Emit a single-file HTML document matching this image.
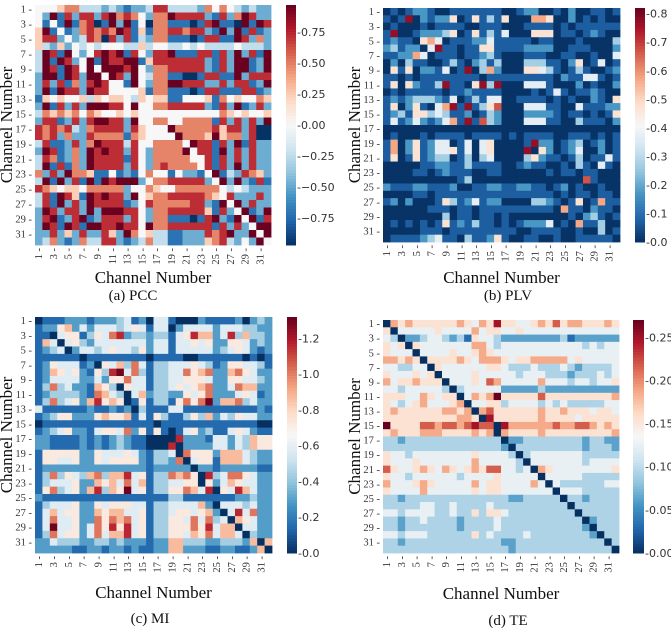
<!DOCTYPE html>
<html><head><meta charset="utf-8"><style>
html,body{margin:0;padding:0;background:#fff;width:671px;height:629px;overflow:hidden}
svg{display:block}
.yt{font-family:"Liberation Serif",serif;font-size:10.5px;fill:#333}
.cb{font-family:"DejaVu Sans",sans-serif;font-size:11px;fill:#333}
.ttl{font-family:"Liberation Serif",serif;font-size:17px;fill:#111}
.cap{font-family:"Liberation Serif",serif;font-size:15px;fill:#111}
</style></head><body>
<svg id="fig" width="671" height="629"></svg>
<script>
const channelLabels=[1,3,5,7,9,11,13,15,17,19,21,23,25,27,29,31];
const pccRows=["44456633323212237733332646432322","42817277278676426687777217268722","41418167018281406611101781108187","58141267676871516677677218281712","57724237607271326611101771187262","53252434344433534433434333343332","38718424787817427781117717282718","38187248187788157777777217288128","38718748488878426677777217288128","28818728848728436611001771182777","27271627874418426688777227277128","28187728774444516611101771117712","15454453545543545511444516454465","28172728887748446677777217281272","36565646544545444444444446545445","27712727887728446644666617272728","76767326777727544486666675772700","76726227666616544448666585662700","37112726877737446666487717281722","28712628787727426666847718272722","37612628777717426666644717272722","38171628777727426766664717282722","62728665114121464414221481327652","38182718187888246677777248282171","76545546666624465446666664343222","37187518787728456677777654722272","37182728777712476666677218482722","28727728288877426677777517248128","27812781277727426611101782184817","28718718877877486677777717272488","22725272275286453311222767822848","23621263377212363311222567324284"];
const plvRows=["01012210011111110012200102001101","10180212250151315000665002010100","01000101111001110001111010111111","18001222350151314000555011012100","12110564011122411111011000100003","23122048110115511112222001110002","11226401110112310001110011001004","02031100131023130003331102501401","05150221401803620005543101310012","11010111111110111111111021144101","15052113811058380004441000201002","01011111011211110000101410112100","12123332140131440011110101002105","15025104681813570004441100411122","12315534311201320002222101101015","14124212461817320004441100311102","00000000000000000000000000000000","01000101111011110101111001110101","16025124401404500001822012301201","16025124451404500008052012400201","15015123301303400003521101301141","00000112211311110012110010310410","00001101211100110000001011011000","00000000001300000000000000071000","21112211120011221122110120100100","00001101111111111111111010110110","12020001531241220000332101501611","00000011101101111111111061102110","00000000301101101000000001023101","01010101512131101012224010611300","00000111011111111100111100100301","01111234110311251001100100111110"];
const miRows=["01112221222341204410002111120232","12256242444345414402444424443322","11045513547823323314586624836332","16404532444444424414454522554232","12340244345443524414444423454212","11111101111111101111001111110101","12544412054637413344454312554431","12654521538947313344756722675422","12444422425574413344555422554432","13734221653054413345456722476622","12333321764304623322545722245412","13734526856501513315757926673422","41111112112120311144111111111121","12355222565561415311353624354422","01111111111111110111111111111100","12345221455472515101452311454211","22111121212321100008222144243655","22111121212321100080222244243655","15555522544454213340755526664322","15544522545555213327045516664322","12222222222222212222202212222211","13735436736684513376750834775422","13444522656474613344550524654422","15734526836594513355764805486422","21111111111111111133111111122322","13444522545554413344446204443422","14645522656644513345545620484722","14744522757674513355474734065422","14944524758584513355575846604422","13745524746684513355465746640322","22433322332322212266333223332606","22222112212212112266222112211260"];
const teRows=["06565555556546585544565756655565","50444445444464554454444444444444","43022344323154432222222231222222","54505444444466434444444444434344","54440444454456544444444444444444","66565055556546665455666664544444","44334405444444554333433343233334","54445450444454444434443332333434","64556555044454764444464443443445","44344444303444442222232222222222","55544654550465695555575555555556","54345644456044553444434343333344","56555555665606755555565565554554","55555555556650855555565555455555","95555776776787708666666766776565","56555666555565606555565555555556","33233333333333330223333333323322","33333333333333332033333333323332","54434444444454444303444444433333","54445444444464444430444444434444","75445654654565774434065444444445","54434444443444454444404444433333","64445654444464554444640433333344","54444644444454554444444044433333","33233333333333333223333303323333","33333443343333433333333330333333","44344443343353554333333333033333","33233433332333343333333333302333","33233333332333343333333333320333","44344433333353433334333333332033","33233333333333332233333333333303","33333333333333333233333333333330"];
const pccTicks=[-0.75,-0.5,-0.25,0,0.25,0.5,0.75];
const plvTicks=[0,0.1,0.2,0.3,0.4,0.5,0.6,0.7,0.8];
const miTicks=[0,0.2,0.4,0.6,0.8,1.0,1.2];
const teTicks=[0,0.05,0.1,0.15,0.2,0.25];

const NS="http://www.w3.org/2000/svg";
const svg=document.getElementById('fig');
const stops=["#053061","#2166ac","#4393c3","#92c5de","#d1e5f0","#f7f7f7","#fddbc7","#f4a582","#d6604d","#b2182b","#67001f"];
function hex(h){return [1,3,5].map(i=>parseInt(h.substr(i,2),16));}
const S=stops.map(hex);
function cmap(t){if(isNaN(t))t=0.5;t=Math.max(0,Math.min(1,t));const p=t*10,i=Math.min(9,Math.floor(p)),f=p-i;const a=S[i],b=S[i+1];return `rgb(${a.map((v,k)=>Math.round(v+(b[k]-v)*f)).join(',')})`;}
function el(tag,attrs,parent){const e=document.createElementNS(NS,tag);for(const k in attrs)e.setAttribute(k,attrs[k]);(parent||svg).appendChild(e);return e;}

function panel(cfg){
  const g=el('g',{});
  
  
  const n=32,cw=(cfg.x1-cfg.x0)/n,ch=(cfg.y1-cfg.y0)/n;
  const xs=j=>cfg.x0+j*cw, ys=i=>cfg.y0+i*ch;
  const cs=v=>(v-cfg.vmin)/(cfg.vmax-cfg.vmin);
  cfg.rows.forEach((row,i)=>{
    for(let j=0;j<n;j++){
      const ch_=row[j]!==undefined?row[j]:row[row.length-1];
      const v=cfg.val(+ch_);
      const r=el('rect',{x:xs(j).toFixed(2),y:ys(i).toFixed(2),width:(cw+0.4).toFixed(2),height:(ch+0.4).toFixed(2),fill:cmap(cs(v))},g);
      
      
    }
  });
  channelLabels.forEach(c=>{
    const yc=ys(c-1)+ch/2;
    const t=el('text',{x:cfg.x0-3,y:yc+3.5,'text-anchor':'end',class:'yt'},g);t.textContent=c+' -';
    
    
    const xc=xs(c-1)+cw/2;
    const u=el('text',{x:0,y:0,'text-anchor':'end',class:'yt',transform:`translate(${xc+3.5},${cfg.y1+3}) rotate(-90)`},g);u.textContent=c+' -';
    
    
  });
  const yt=el('text',{x:0,y:0,'text-anchor':'middle',class:'ttl',transform:`translate(${cfg.x0-23},${(cfg.y0+cfg.y1)/2}) rotate(-90)`},g);yt.textContent='Channel Number';
  
  
  const xt=el('text',{x:(cfg.x0+cfg.x1)/2,y:cfg.xtY,'text-anchor':'middle',class:'ttl'},g);xt.textContent='Channel Number';
  
  
  const cp=el('text',{x:cfg.capX,y:cfg.capY,'text-anchor':'middle',class:'cap'},g);cp.textContent=cfg.caption;
  
  
  const cb=el('g',{},g);
  
  
  const H=cfg.y1-cfg.y0,steps=80;
  for(let k=0;k<steps;k++){
    el('rect',{x:cfg.cbx,y:(cfg.y0+H*k/steps).toFixed(2),width:cfg.cbw,height:(H/steps+0.5).toFixed(2),fill:cmap(1-(k+0.5)/steps)},cb);
  }
  const cby=v=>cfg.y1-cs(v)*H;
  cfg.ticks.forEach(v=>{
    const y=cby(v);
    const t=el('text',{x:cfg.cbx+cfg.cbw+1,y:y+4,class:'cb'},cb);
    t.textContent='-'+(v<0?'\u2212'+Math.abs(v).toFixed(cfg.dec):v.toFixed(cfg.dec));
    
    
  });
}
panel({name:'pcc',rows:pccRows,val:c=>(c-4)*0.24,vmin:-0.97,vmax:0.97,x0:35,x1:271,y0:5,y1:245,cbx:286,cbw:10,ticks:pccTicks,dec:2,xtY:283,capX:133,capY:300,caption:'(a) PCC'});
panel({name:'plv',rows:plvRows,val:c=>c===0?0.005:c*0.1-0.03,vmin:0,vmax:0.82,x0:383,x1:620,y0:8,y1:242,cbx:635,cbw:10,ticks:plvTicks,dec:1,xtY:283,capX:508,capY:300,caption:'(b) PLV'});
panel({name:'mi',rows:miRows,val:c=>c*0.145,vmin:0,vmax:1.32,x0:35,x1:272,y0:317,y1:553,cbx:287,cbw:10,ticks:miTicks,dec:1,xtY:598,capX:150,capY:623,caption:'(c) MI'});
panel({name:'te',rows:teRows,val:c=>c*0.031,vmin:0,vmax:0.27,x0:383,x1:619,y0:320,y1:553,cbx:633,cbw:11,ticks:teTicks,dec:2,xtY:599,capX:508,capY:625,caption:'(d) TE'});
</script>
</body></html>
